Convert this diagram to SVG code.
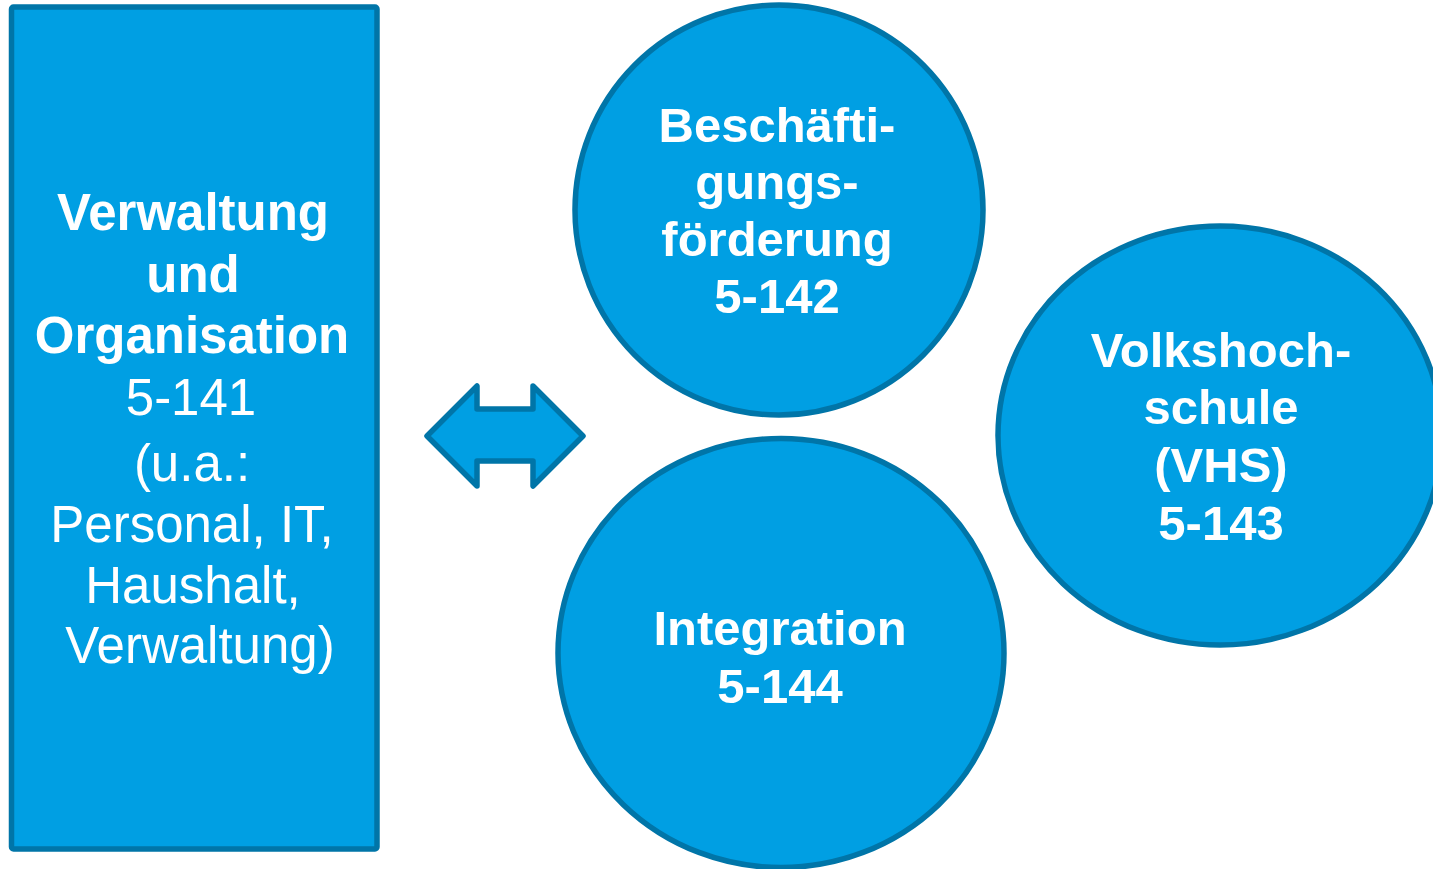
<svg xmlns="http://www.w3.org/2000/svg" width="1433" height="869" viewBox="0 0 1433 869">
<style>
.shape{fill:#009FE3;stroke:#0075A8;stroke-width:5.5;stroke-linejoin:round}
.b{font-family:"Liberation Sans",Arial,sans-serif;font-weight:bold;fill:#fff;text-anchor:middle}
.r{font-family:"Liberation Sans",Arial,sans-serif;fill:#fff;text-anchor:middle}
</style>
<rect width="1433" height="869" fill="#fff"/>
<g id="verwaltung">
<rect class="shape" x="11.5" y="7" width="365.5" height="842" rx="2"/>
<text class="b" font-size="51"><tspan x="193" y="230">Verwaltung</tspan><tspan x="193" y="292">und</tspan><tspan x="192" y="353">Organisation</tspan></text>
<text class="r" font-size="51"><tspan x="191" y="415">5-141</tspan><tspan x="192" y="481">(u.a.:</tspan><tspan x="192" y="542">Personal, IT,</tspan><tspan x="193" y="603">Haushalt,</tspan><tspan x="200" y="663">Verwaltung)</tspan></text>
</g>
<g id="connectors">
<path class="shape" d="M427,436 L477,386 L477,409 L533,409 L533,386 L583,436 L533,486 L533,461 L477,461 L477,486 Z"/>
</g>
<g id="beschaeftigung">
<ellipse class="shape" cx="779" cy="210" rx="204" ry="205"/>
<text class="b" font-size="49"><tspan x="777" y="142">Beschäfti-</tspan><tspan x="777" y="199">gungs-</tspan><tspan x="777" y="256">förderung</tspan><tspan x="777" y="313">5-142</tspan></text>
</g>
<g id="integration">
<ellipse class="shape" cx="781" cy="653" rx="223" ry="214.5"/>
<text class="b" font-size="49"><tspan x="780" y="645">Integration</tspan><tspan x="780" y="703">5-144</tspan></text>
</g>
<g id="vhs">
<ellipse class="shape" cx="1220" cy="435.5" rx="222" ry="209.5"/>
<text class="b" font-size="49"><tspan x="1221" y="367">Volkshoch-</tspan><tspan x="1221" y="424">schule</tspan><tspan x="1221" y="482">(VHS)</tspan><tspan x="1221" y="540">5-143</tspan></text>
</g>
</svg>
